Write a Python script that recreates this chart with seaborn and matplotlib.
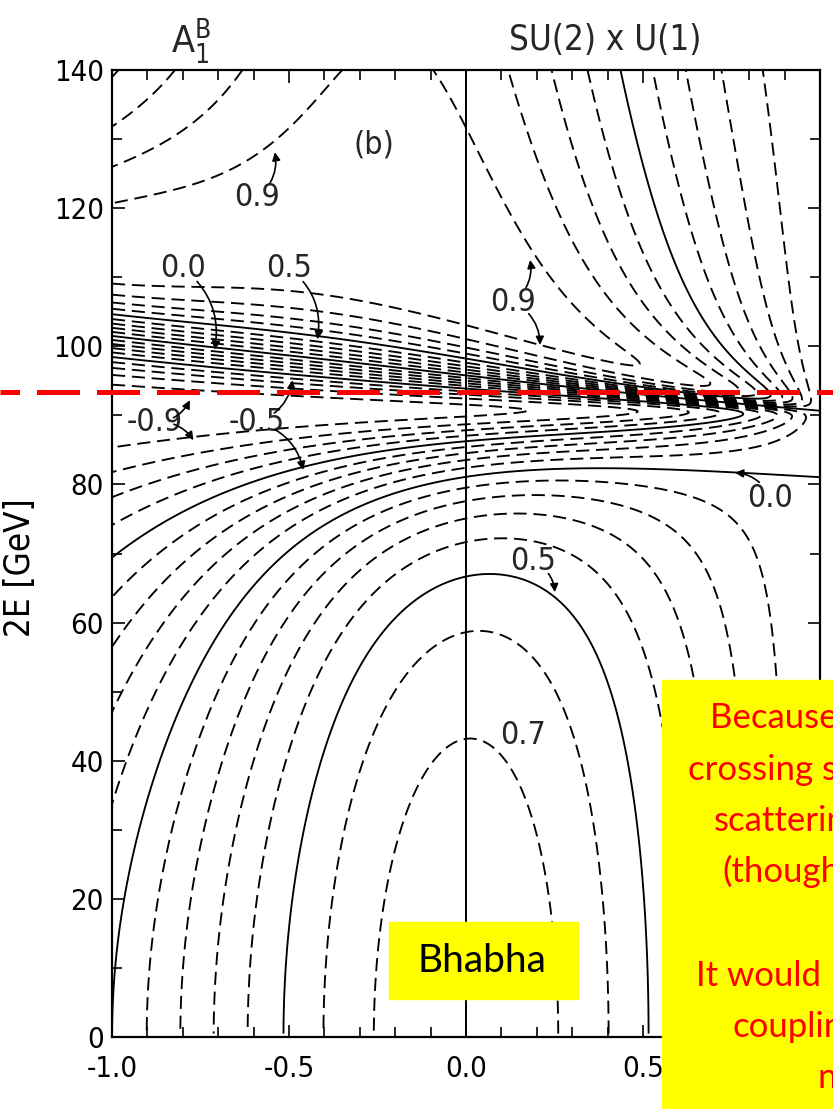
import numpy as np
import matplotlib
matplotlib.use("Agg")
import matplotlib.pyplot as plt
import matplotlib.transforms as mtransforms
from matplotlib.patches import Rectangle
from matplotlib.lines import Line2D
import seaborn as sns

# ------------------------
# Values
# ------------------------
mz = 90.8          # Z mass [GeV]
gz = 2.6           # Z width [GeV]
sw2 = 0.22         # sin^2 theta_W
red_line_e = 93.4  # red dashed marker [GeV]

dashed_levels = [-0.9, -0.8, -0.7, -0.6, -0.4, -0.3, -0.2, -0.1,
                 0.1, 0.2, 0.3, 0.4, 0.6, 0.7, 0.8, 0.9]
solid_levels = [-0.5, 0.0, 0.5]

x_ticks = [-1.0, -0.5, 0.0, 0.5, 1.0]
x_tick_labels = ["-1.0", "-0.5", "0.0", "0.5", "1.0"]
y_ticks = [0, 20, 40, 60, 80, 100, 120, 140]

# label text, text position (cos, 2E), arrow tips
contour_labels = [
    ("0.9", (-0.59, 121.6), [(-0.54, 128.1)]),
    ("0.0", (-0.80, 111.3), [(-0.71, 99.5)]),
    ("0.5", (-0.50, 111.3), [(-0.42, 101.0)]),
    ("-0.9", (-0.88, 89.0), [(-0.78, 92.2), (-0.77, 86.4)]),
    ("-0.5", (-0.59, 89.0), [(-0.49, 95.1), (-0.46, 82.1)]),
    ("0.9", (0.133, 106.4), [(0.181, 112.5), (0.209, 100.2)]),
    ("0.0", (0.86, 78.0), [(0.76, 81.7)]),
    ("0.5", (0.189, 68.8), [(0.251, 64.4)]),
    ("0.7", (0.161, 43.7), []),
]

note_lines = ["Because of the", "crossing symmetry", "scattering", "(though",
              "", "It would", "couplings", "n"]
note_x = [710, 688, 714, 722, 0, 696, 732, 817]

# ------------------------
# Double-helicity asymmetry for Bhabha scattering, SU(2) x U(1)
# ------------------------
cos_grid = np.linspace(-1.0, 0.9995, 900)
e_grid = np.linspace(0.5, 140, 1600)
C, E = np.meshgrid(cos_grid, e_grid)
s = E**2
t = -s * (1 - C) / 2
u = -s * (1 + C) / 2
gl, gr = -0.5 + sw2, sw2
norm = sw2 * (1 - sw2)


def prop(x, gi, gj, width):
    return 1 / x + gi * gj / norm / (x - mz**2 + 1j * mz * width)


sig_same = 2 * np.abs(s * prop(t, gl, gr, 0.0))**2
sig_opp = (np.abs(u * (prop(s, gl, gl, gz) + prop(t, gl, gl, 0.0)))**2
           + np.abs(u * (prop(s, gr, gr, gz) + prop(t, gr, gr, 0.0)))**2
           + 2 * np.abs(t * prop(s, gl, gr, gz))**2)
asym = (sig_same - sig_opp) / (sig_same + sig_opp)

# ------------------------
# Plot
# ------------------------
sns.set_style("ticks")
plt.rcParams['font.family'] = ['DejaVu Sans']
plt.rcParams['font.stretch'] = 'condensed'

fig = plt.figure(figsize=(8.33, 11.09), dpi=100)
ax = fig.add_axes([0.1345, 0.0649, 0.8499, 0.8720])

ax.contour(C, E, asym, levels=dashed_levels, colors='black',
           linewidths=1.35, linestyles=[(0, (7, 3.6))])
ax.contour(C, E, asym, levels=solid_levels, colors='black',
           linewidths=1.35, linestyles='solid')
ax.axvline(0.0, color='black', lw=1.4)

ax.set_xlim(-1, 1)
ax.set_ylim(0, 140)
ax.set_xticks(x_ticks)
ax.set_xticklabels(x_tick_labels)
ax.set_xticks(np.arange(-1, 1.01, 0.1), minor=True)
ax.set_yticks(y_ticks)
ax.set_yticks(np.arange(0, 141, 10), minor=True)
ax.tick_params(which='both', direction='in', top=True, right=True,
               width=1.2, color='black', labelcolor='black')
ax.tick_params(which='major', length=9, labelsize=21)
ax.tick_params(which='minor', length=7)
ax.tick_params(axis='x', pad=13)
ax.tick_params(axis='y', pad=6)
for sp in ax.spines.values():
    sp.set_linewidth(1.6)
    sp.set_color('black')

ax.set_ylabel("2E [GeV]", fontsize=25, color='black')
ax.yaxis.set_label_coords(-0.106, 0.485)
ax.text(0.52, -13.5, "cos θ", fontsize=21, ha='left', va='center', clip_on=False)

fig.text(0.229, 0.962, r"$\mathregular{A_1^B}$", fontsize=27, ha='center', va='center')
fig.text(0.727, 0.964, "SU(2) x U(1)", fontsize=25, ha='center', va='center')
ax.text(-0.26, 129.1, "(b)", fontsize=23, ha='center', va='center')

for label, pos, tips in contour_labels:
    ax.text(pos[0], pos[1], label, fontsize=23, ha='center', va='center')
    for tip in tips:
        rad = -0.3 if tip[1] < pos[1] else 0.3
        ax.annotate("", xy=tip, xytext=pos,
                    arrowprops=dict(arrowstyle='-|>', lw=1.2, color='black',
                                    shrinkA=14, shrinkB=0, mutation_scale=12,
                                    connectionstyle=f"arc3,rad={rad}"))

# red dashed line across the whole picture
trans = mtransforms.blended_transform_factory(fig.transFigure, ax.transData)
fig.add_artist(Line2D([0, 1], [red_line_e, red_line_e], transform=trans,
                      color='#ff0000', lw=3.6, linestyle=(4.7, (8.6, 3.4)),
                      clip_on=False, zorder=5))

# yellow overlays
fig.add_artist(Rectangle((389 / 833, 1 - 999 / 1109), 189 / 833, 77 / 1109,
                         transform=fig.transFigure, color='#ffff00', zorder=6))
fig.text(482 / 833, 1 - 961 / 1109, "Bhabha", fontsize=28, family='Lato',
         stretch='normal', ha='center', va='center', color='black', zorder=7)

fig.add_artist(Rectangle((662 / 833, 0), 0.3, 1 - 680 / 1109,
                         transform=fig.transFigure, color='#ffff00', zorder=6))
for i, (line, x0) in enumerate(zip(note_lines, note_x)):
    if line:
        fig.text(x0 / 833, 1 - (728 + 51.5 * i) / 1109, line, fontsize=25,
                 family='Lato', stretch='normal', ha='left', va='baseline',
                 color='#ff0000', zorder=7)

fig.savefig("out.png", dpi=100)
